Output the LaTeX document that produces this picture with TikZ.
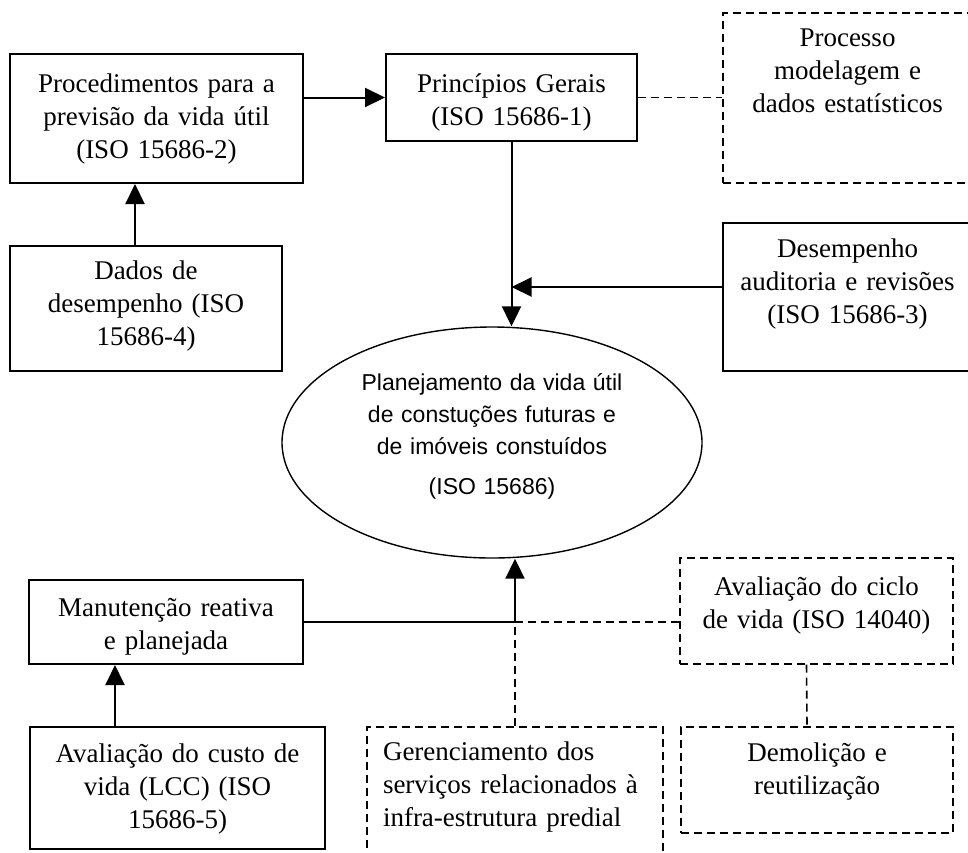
\documentclass[tikz,border=0pt]{standalone}
\usepackage{fontspec}
\setmainfont{Liberation Serif}
\newfontfamily\ellfont{Liberation Sans}
\usetikzlibrary{arrows.meta, shapes.geometric}

\begin{document}
\begin{tikzpicture}[x=1pt, y=-1pt,
    box/.style={draw, line width=2pt, anchor=north, align=center, inner sep=0pt, font=\fontsize{27}{33}\selectfont},
    dbox/.style={box, line width=1.6pt, dash pattern=on 8pt off 5pt},
    arr/.style={line width=2pt, -{Triangle[length=20pt, width=19pt]}},
    dline/.style={line width=1.6pt, dash pattern=on 8pt off 5pt}]
    \useasboundingbox (0,0) rectangle (968,852);

    \node[box, text width=293pt, text height=38pt, text depth=91pt] (proc) at (156.5,53) {Procedimentos para a\\previsão da vida útil\\(ISO 15686-2)};
    \node[box, text width=251pt, text height=38pt, text depth=49pt] (princ) at (511.5,53) {Princípios Gerais\\(ISO 15686-1)};
    \node[dbox, text width=249pt, text height=34pt, text depth=136pt] (model) at (847.5,12) {Processo\\modelagem e\\dados estatísticos};
    \node[box, text width=272pt, text height=33pt, text depth=92pt] (dados) at (146,245) {Dados de\\desempenho (ISO\\15686-4)};
    \node[box, text width=249pt, text height=34pt, text depth=114pt] (audit) at (847.5,222) {Desempenho\\auditoria e revisões\\(ISO 15686-3)};
    \node[ellipse, draw, line width=1.4pt, minimum width=420pt, minimum height=231pt, inner sep=0pt, align=center, text width=280pt,
          font=\ellfont\fontsize{23}{32}\selectfont, text height=16pt, text depth=121pt] (plan) at (492,442.5)
          {Planejamento da vida útil\\de constuções futuras e\\de imóveis constuídos\\[8pt](ISO 15686)};
    \node[box, text width=274pt, text height=36pt, text depth=48pt] (manut) at (166,579) {Manutenção reativa\\e planejada};
    \node[dbox, text width=273pt, text height=38pt, text depth=68pt] (ciclo) at (816.5,557) {Avaliação do ciclo\\de vida (ISO 14040)};
    \node[box, text width=295pt, text height=35pt, text depth=87pt] (custo) at (177.5,726) {Avaliação do custo de\\vida (LCC) (ISO\\15686-5)};
    \node[dbox, align=left, inner xsep=16pt, text width=264pt, text height=34pt, text depth=106pt] (gerenc) at (515,726) {Gerenciamento dos\\serviços relacionados à\\infra-estrutura predial};
    \node[dbox, text width=272pt, text height=35pt, text depth=71pt] (demol) at (817,726) {Demolição e\\reutilização};

    \coordinate (junc) at (gerenc.north |- manut.east);

    \draw[arr] (proc.east |- princ.west) -- (princ.west);
    \draw[dline] (princ.east) -- (princ.east -| model.west);
    \draw[arr] ([xshift=-11pt]dados.north) -- ([xshift=-11pt]dados.north |- proc.south);
    \draw[arr] (princ.south) -- (princ.south |- plan.north);
    \draw[arr] ([yshift=10pt]audit.west) -- ([yshift=10pt]audit.west -| princ.south);
    \draw[line width=2pt] (manut.east) -- (junc);
    \draw[arr] (junc) -- (junc |- plan.south);
    \draw[dline] (junc) -- (junc -| ciclo.west);
    \draw[dline] (gerenc.north) -- (junc);
    \draw[dline] ([xshift=-10pt]ciclo.south) -- ([xshift=-10pt]demol.north);
    \draw[arr] ([xshift=-62.5pt]custo.north) -- ([xshift=-62.5pt]custo.north |- manut.south);
\end{tikzpicture}
\end{document}
